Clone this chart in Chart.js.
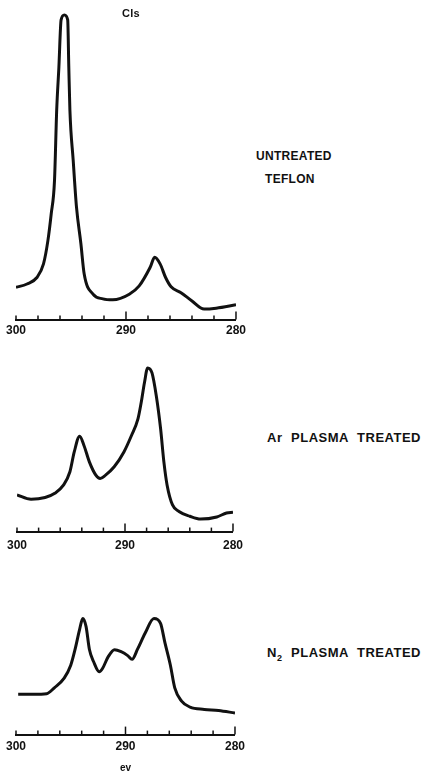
<!DOCTYPE html>
<html>
<head>
<meta charset="utf-8">
<title>C1s spectra</title>
<script src="https://cdn.jsdelivr.net/npm/chart.js@4.4.1/dist/chart.umd.min.js"></script>
<style>
  html, body { margin: 0; padding: 0; background: #fff; }
  #page {
    position: relative; width: 423px; height: 779px; overflow: hidden;
    font-family: "Liberation Sans", Arial, sans-serif; font-weight: bold; color: #111;
  }
  #page canvas { position: absolute; left: 0; }
  .label { position: absolute; white-space: nowrap; font-size: 12px; line-height: 12px; letter-spacing: 0.3px; }
  .wide { font-size: 13px; line-height: 13px; letter-spacing: 0.5px; word-spacing: 4.5px; }
</style>
</head>
<body>
<div id="page">
  <canvas id="untreated-chart" width="250" height="342" style="top:0px"></canvas>
  <canvas id="ar-chart" width="250" height="215" style="top:345px"></canvas>
  <canvas id="n2-chart" width="250" height="180" style="top:594px"></canvas>

  <div class="label" style="left:122px; top:7px; font-size:11px">Cls</div>
  <div class="label" style="left:256px; top:150px">UNTREATED</div>
  <div class="label" style="left:265px; top:173px">TEFLON</div>
  <div class="label wide" style="left:267px; top:431px">Ar PLASMA TREATED</div>
  <div class="label wide" style="left:267px; top:646px">N<sub style="font-size:9px">2</sub> PLASMA TREATED</div>
</div>
<script>
// Binding energy axis (eV), plotted high -> low
const evMin = 280;
const evMax = 300;
const evStep = 2;
const labelledTicks = [300, 290, 280];
const longTicks = [290, 280];

// Untreated teflon
const untreatedEv = [300.0, 299.0, 298.1, 297.5, 297.1, 296.8, 296.5, 296.3, 296.1, 295.9, 295.6, 295.3, 295.2, 295.1,
    294.8, 294.5, 294.1, 293.8, 293.0, 292.1, 291.2, 289.7, 288.8, 287.8, 287.4, 286.9, 286.4, 285.9, 285.0, 284.0,
    282.9, 281.8, 280.0];
const untreatedCounts = [10.4, 11.5, 13.6, 18.0, 25.5, 34.1, 44.9, 67.7, 81.6, 96.8, 98.4, 96.8, 81.6, 67.7,
    51.4, 36.3, 24.5, 14.7, 8.2, 6.7, 6.4, 8.2, 10.9, 16.9, 20.1, 18.0, 13.6, 10.6, 8.7, 6.0,
    3.4, 3.7, 4.8];

// Ar plasma treated
const arEv = [300.0, 298.7, 297.4, 296.5, 295.7, 295.1, 294.7, 294.2, 293.8, 293.3, 292.7, 292.3, 291.8, 291.0,
    290.1, 289.4, 288.8, 288.5, 288.2, 287.9, 287.5, 287.1, 286.7, 286.4, 286.1, 285.6, 285.0, 284.0, 283.0,
    281.5, 280.6, 280.0];
const arCounts = [20.8, 18.3, 19.3, 21.7, 26.3, 33.9, 45.1, 54.0, 48.8, 39.5, 32.0, 30.1, 32.0, 36.7,
    45.1, 54.4, 63.8, 73.1, 84.3, 92.7, 89.9, 76.8, 58.1, 39.5, 26.3, 15.1, 11.4, 8.7, 7.1,
    8.3, 10.5, 10.9];

// N2 plasma treated
const n2Ev = [299.8, 298.4, 297.2, 296.5, 295.6, 295.0, 294.6, 294.2, 293.9, 293.6, 293.3, 292.9, 292.4, 292.1,
    291.6, 291.0, 290.4, 289.8, 289.4, 288.9, 288.2, 287.4, 286.8, 286.4, 285.9, 285.5, 284.9, 284.1, 282.8,
    281.5, 280.0];
const n2Counts = [30.9, 30.9, 31.3, 35.8, 43.2, 53.1, 65.4, 80.2, 88.9, 82.7, 65.4, 55.6, 48.1, 50.6,
    59.3, 65.0, 63.5, 60.5, 57.6, 65.4, 77.8, 88.9, 85.2, 70.4, 53.1, 35.8, 25.9, 21.0, 19.3,
    18.5, 16.5];

const ink = '#111';
const tickFont = { family: 'Liberation Sans', weight: 'bold', size: 12 };

// tick marks stand up from the axis line instead of hanging below it
const upTicks = {
    id: 'upTicks',
    afterDraw(chart) {
        const scale = chart.scales.x;
        const ctx = chart.ctx;
        ctx.save();
        ctx.strokeStyle = ink;
        ctx.lineWidth = 1.5;
        scale.ticks.forEach(t => {
            const px = scale.getPixelForValue(t.value);
            const len = longTicks.includes(t.value) ? 8 : 4;
            ctx.beginPath();
            ctx.moveTo(px, scale.top);
            ctx.lineTo(px, scale.top - len);
            ctx.stroke();
        });
        ctx.restore();
    }
};

function makeSpectrum(canvasId, ev, counts, labelPad, unitTitle) {
    const ctx = document.getElementById(canvasId).getContext('2d');
    return new Chart(ctx, {
        type: 'line',
        data: {
            datasets: [{
                data: ev.map((e, i) => ({ x: e, y: counts[i] })),
                borderColor: ink,
                borderWidth: 3,
                pointRadius: 0,
                cubicInterpolationMode: 'monotone',
                fill: false
            }]
        },
        options: {
            responsive: false,
            animation: false,
            events: [],
            layout: { padding: { left: 16, right: 13, top: 10, bottom: 0 } },
            scales: {
                x: {
                    type: 'linear',
                    min: evMin,
                    max: evMax,
                    reverse: true,
                    grid: { display: false, drawTicks: false },
                    border: { display: true, color: ink, width: 2 },
                    ticks: {
                        stepSize: evStep,
                        autoSkip: false,
                        maxRotation: 0,
                        padding: labelPad,
                        color: ink,
                        font: tickFont,
                        callback: v => labelledTicks.includes(v) ? String(v) : ''
                    },
                    title: {
                        display: !!unitTitle,
                        text: unitTitle || '',
                        color: ink,
                        font: { family: 'Liberation Sans', weight: 'bold', size: 10 },
                        padding: { top: 3, bottom: 0 }
                    }
                },
                y: { display: false, min: 0, max: 100 }
            },
            plugins: {
                legend: { display: false },
                tooltip: { enabled: false }
            }
        },
        plugins: [upTicks]
    });
}

makeSpectrum('untreated-chart', untreatedEv, untreatedCounts, 4);
makeSpectrum('ar-chart', arEv, arCounts, 7);
makeSpectrum('n2-chart', n2Ev, n2Counts, 5, 'ev');
</script>
</body>
</html>
